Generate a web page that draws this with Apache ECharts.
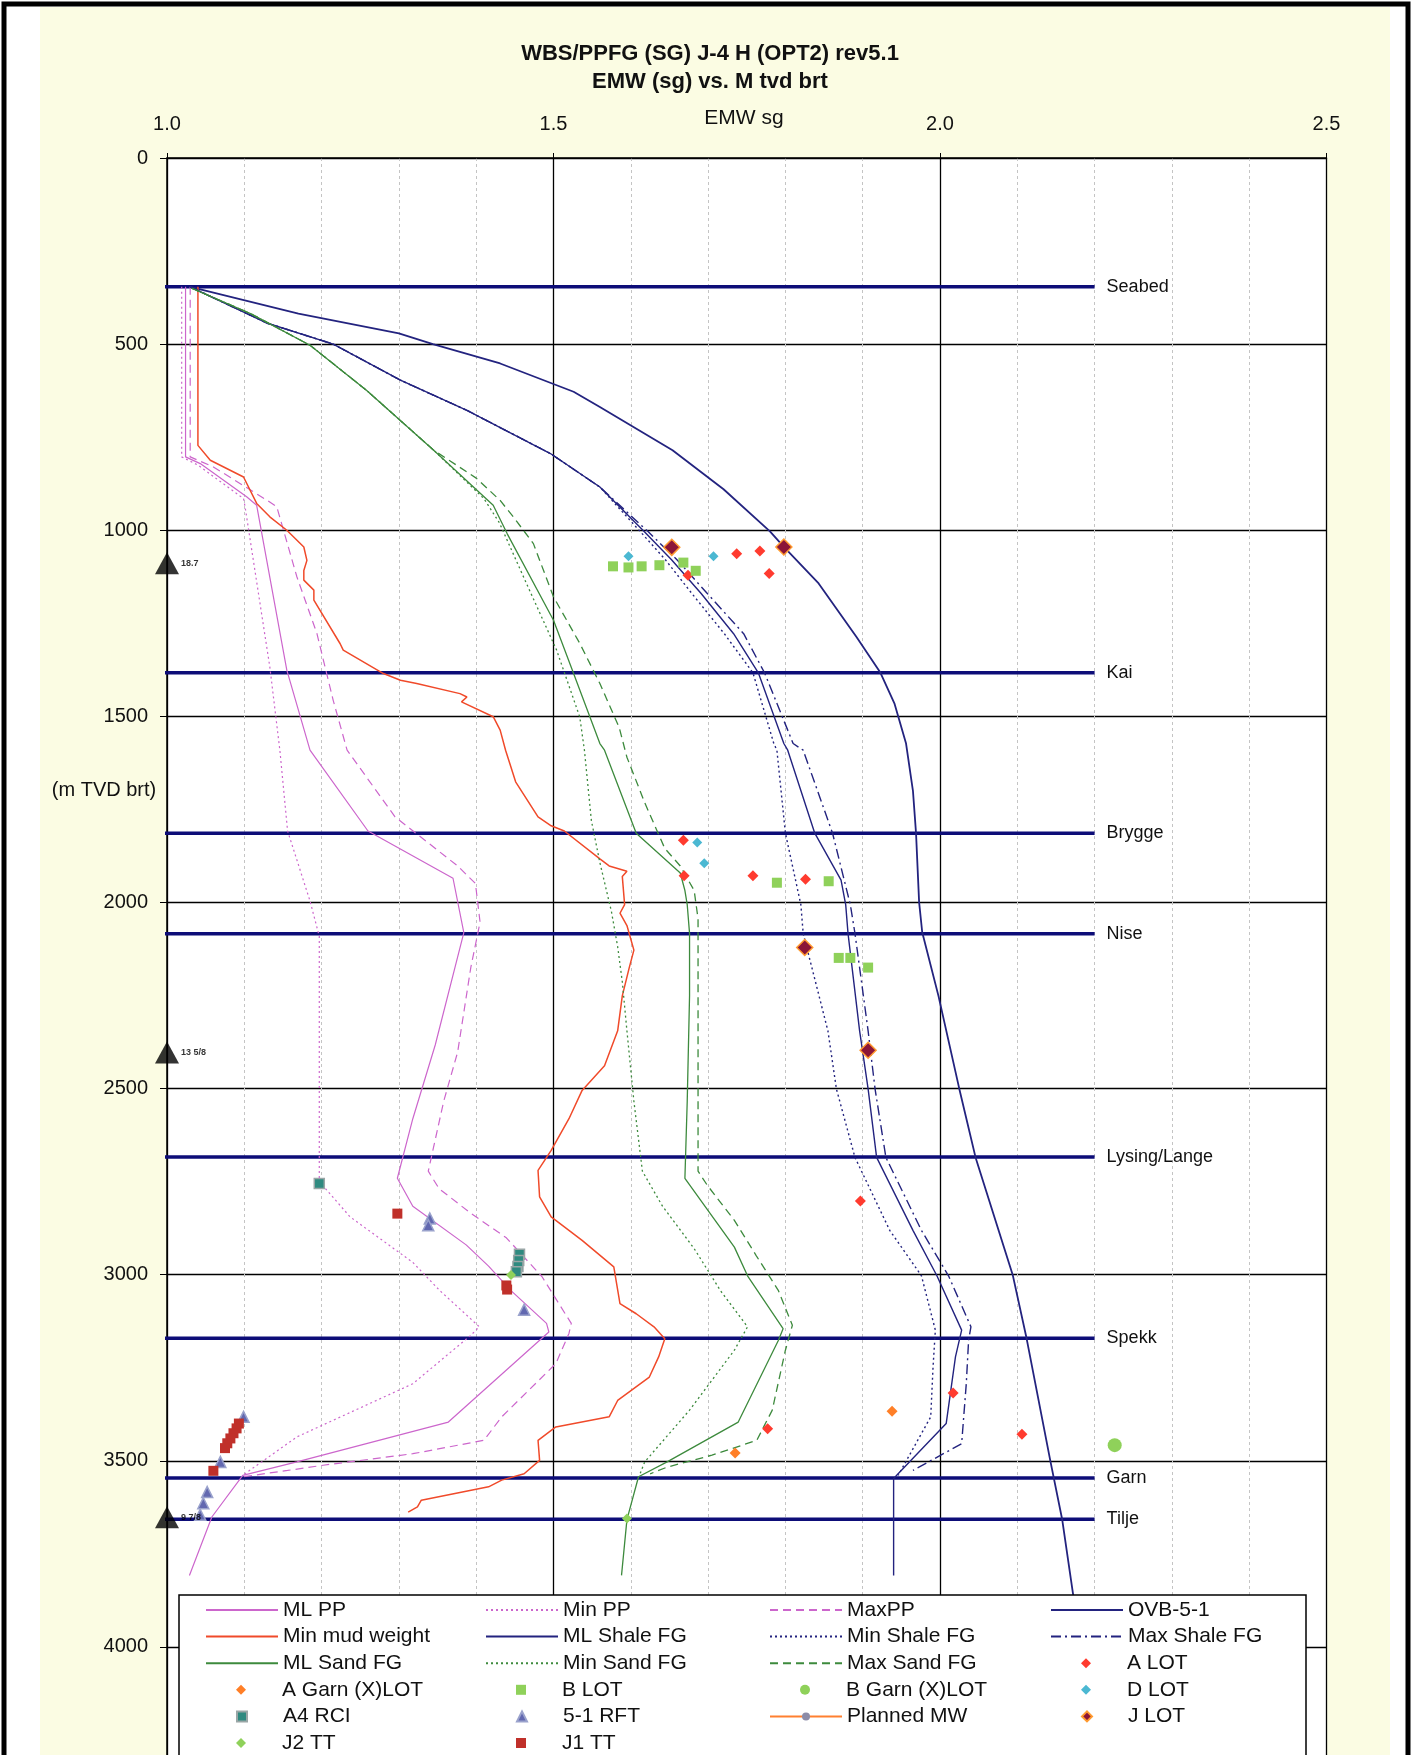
<!DOCTYPE html>
<html>
<head>
<meta charset="utf-8">
<title>WBS/PPFG J-4 H</title>
<script src="https://cdn.jsdelivr.net/npm/echarts@6/dist/echarts.min.js"></script>
<style>
html,body{margin:0;padding:0;background:#fff;}
#chart{width:1416px;height:1755px;}
</style>
</head>
<body>
<div id="chart"></div>
<script>
// EMW (sg) vs depth (m TVD brt), points are [sg, depth]
var mlPp = [[1.024,346],[1.024,803],[1.043,821],[1.103,910],[1.116,933],[1.155,1376],[1.185,1591],[1.260,1808],[1.370,1935],[1.384,2081],[1.347,2383],[1.318,2581],[1.298,2741],[1.318,2816],[1.387,2920],[1.416,2977],[1.445,3043],[1.491,3131],[1.494,3154],[1.364,3396],[1.168,3503],[1.098,3539],[1.058,3651],[1.029,3808]];
var minPp = [[1.019,346],[1.019,803],[1.040,825],[1.099,915],[1.101,937],[1.133,1367],[1.146,1591],[1.156,1808],[1.185,1996],[1.197,2091],[1.197,2750],[1.237,2845],[1.318,2967],[1.353,3043],[1.404,3140],[1.393,3163],[1.318,3293],[1.168,3436],[1.098,3539]];
var maxPp = [[1.030,346],[1.030,803],[1.060,830],[1.129,919],[1.142,937],[1.168,1125],[1.194,1278],[1.215,1457],[1.233,1591],[1.295,1770],[1.376,1902],[1.399,1949],[1.405,2053],[1.393,2175],[1.376,2402],[1.358,2534],[1.338,2722],[1.352,2769],[1.393,2835],[1.439,2901],[1.485,3005],[1.523,3131],[1.520,3158],[1.503,3239],[1.433,3382],[1.410,3445],[1.318,3481],[1.202,3512],[1.156,3526],[1.098,3543]];
var ovb = [[1.030,346],[1.170,418],[1.300,471],[1.344,500],[1.431,552],[1.526,628],[1.560,669],[1.654,785],[1.720,890],[1.780,1003],[1.798,1045],[1.843,1143],[1.892,1287],[1.923,1383],[1.941,1465],[1.956,1572],[1.965,1700],[1.969,1814],[1.973,2000],[1.977,2080],[1.998,2251],[2.025,2501],[2.046,2685],[2.094,3000],[2.112,3171],[2.143,3503],[2.158,3657],[2.172,3856],[2.180,3950]];
var minMudWeight = [[1.040,346],[1.040,772],[1.056,812],[1.099,857],[1.116,928],[1.133,964],[1.155,1000],[1.177,1045],[1.181,1081],[1.177,1108],[1.177,1134],[1.190,1161],[1.190,1188],[1.224,1305],[1.228,1322],[1.280,1385],[1.302,1403],[1.323,1412],[1.379,1439],[1.388,1448],[1.381,1461],[1.422,1501],[1.431,1537],[1.438,1591],[1.451,1676],[1.480,1770],[1.497,1794],[1.514,1808],[1.560,1883],[1.572,1902],[1.595,1916],[1.589,1930],[1.592,2006],[1.586,2029],[1.595,2062],[1.604,2128],[1.598,2175],[1.589,2251],[1.583,2345],[1.566,2439],[1.537,2505],[1.520,2581],[1.497,2666],[1.480,2720],[1.482,2791],[1.497,2845],[1.537,2908],[1.578,2979],[1.586,3078],[1.607,3105],[1.630,3140],[1.644,3172],[1.636,3221],[1.624,3275],[1.583,3338],[1.572,3382],[1.503,3409],[1.480,3445],[1.482,3499],[1.462,3535],[1.433,3552],[1.416,3570],[1.329,3606],[1.324,3624],[1.312,3638]];
var mlShaleFg = [[1.030,346],[1.130,444],[1.215,500],[1.302,597],[1.388,678],[1.496,794],[1.560,884],[1.617,1003],[1.653,1080],[1.691,1170],[1.733,1278],[1.765,1383],[1.798,1573],[1.803,1591],[1.838,1814],[1.872,1940],[1.878,2006],[1.881,2083],[1.896,2345],[1.907,2501],[1.918,2685],[1.965,2881],[1.996,3003],[2.028,3149],[2.020,3221],[2.008,3400],[1.944,3539],[1.940,3548],[1.940,3808]];
var minShaleFg = [[1.030,346],[1.130,444],[1.215,500],[1.302,597],[1.388,678],[1.496,794],[1.560,884],[1.612,1003],[1.645,1080],[1.679,1170],[1.721,1278],[1.758,1383],[1.785,1573],[1.789,1591],[1.800,1814],[1.820,2006],[1.823,2083],[1.855,2345],[1.866,2501],[1.890,2685],[1.935,2881],[1.976,3003],[1.994,3149],[1.991,3248],[1.988,3382],[1.946,3539]];
var maxShaleFg = [[1.030,346],[1.130,444],[1.215,500],[1.302,597],[1.388,678],[1.496,794],[1.560,884],[1.622,1003],[1.660,1080],[1.699,1170],[1.746,1278],[1.773,1383],[1.810,1573],[1.823,1591],[1.861,1814],[1.884,2006],[1.890,2083],[1.907,2345],[1.916,2501],[1.930,2685],[1.976,2881],[2.011,3003],[2.040,3140],[2.037,3176],[2.034,3293],[2.028,3454],[1.965,3526]];
var mlSandFg = [[1.032,350],[1.108,418],[1.185,503],[1.258,624],[1.345,785],[1.422,933],[1.440,1009],[1.500,1242],[1.526,1385],[1.560,1573],[1.566,1591],[1.607,1814],[1.664,1921],[1.670,1968],[1.673,2006],[1.676,2083],[1.676,2251],[1.673,2534],[1.670,2741],[1.734,2926],[1.751,3003],[1.797,3145],[1.791,3176],[1.739,3396],[1.647,3503],[1.610,3543],[1.595,3658],[1.588,3808]];
var minSandFg = [[1.032,350],[1.108,418],[1.185,503],[1.258,624],[1.345,785],[1.410,915],[1.430,980],[1.465,1143],[1.504,1322],[1.534,1502],[1.540,1591],[1.549,1780],[1.560,1893],[1.575,2025],[1.583,2119],[1.589,2213],[1.595,2345],[1.604,2534],[1.615,2722],[1.641,2816],[1.682,2930],[1.716,3043],[1.751,3140],[1.734,3203],[1.676,3364],[1.618,3503],[1.612,3535]];
var maxSandFg = [[1.032,350],[1.108,418],[1.185,503],[1.258,624],[1.345,785],[1.400,860],[1.431,920],[1.448,964],[1.474,1036],[1.500,1179],[1.534,1304],[1.560,1412],[1.585,1530],[1.595,1610],[1.618,1732],[1.644,1855],[1.664,1902],[1.682,1968],[1.687,2044],[1.687,2722],[1.699,2760],[1.734,2854],[1.762,2948],[1.791,3043],[1.809,3136],[1.800,3203],[1.783,3364],[1.763,3445],[1.705,3485],[1.647,3517],[1.625,3535]];
var plannedMw = [];

var aLot = [[1.737,1063],[1.767,1056],[1.779,1116],[1.674,1121],[1.668,1833],[1.669,1928],[1.758,1928],[1.826,1938],[1.897,2802],[2.017,3318],[2.106,3429],[1.777,3414]];
var aGarnLot = [[1.735,3479],[1.938,3367]];
var bLot = [[1.577,1097],[1.597,1100],[1.614,1097],[1.637,1094],[1.668,1087],[1.684,1109],[1.789,1947],[1.856,1943],[1.869,2149],[1.884,2149],[1.907,2175]];
var bGarnLot = [[2.226,3458]];
var dLot = [[1.597,1070],[1.707,1070],[1.686,1839],[1.695,1895]];
var a4Rci = [[1.197,2755],[1.456,2945],[1.455,2962],[1.454,2978],[1.452,2992]];
var rft51 = [[1.340,2849],[1.338,2867],[1.462,3094],[1.099,3382],[1.069,3503],[1.052,3584],[1.047,3614],[1.043,3645]];
var jLot = [[1.653,1046],[1.798,1045],[1.825,2121],[1.907,2397]];
var j2Tt = [[1.445,3001],[1.595,3655]];
var j1Tt = [[1.298,2836],[1.439,3029],[1.440,3040],[1.093,3400],[1.090,3413],[1.086,3426],[1.082,3440],[1.078,3453],[1.075,3466],[1.060,3527]];

// formation tops
var formationNames = ['Seabed','Kai','Brygge','Nise','Lysing/Lange','Spekk','Garn','Tilje'];
var formationDepths = [346,1383,1814,2084,2684,3171,3546,3657];
var formationFrom = 0.984, formationTo = 2.2;

// casing shoes
var casingDepths = [1089,2403,3652];
var casingLabels = ['18.7','13 5/8','9 7/8'];

var emwTicks = [1.0,1.5,2.0,2.5];
var depthMin = 0, depthMax = 4500, depthStep = 500;

var FONT = 'Liberation Sans, Arial, sans-serif';
var PINK = '#cc66cc', NAVY = '#23237f', GREEN = '#3d8a3d', RED = '#f04a2a';
var DOT = [2,3], DASH = [8,5], DASHDOT = [10,4,2,4];

function lineSeries(name, data, color, type, width) {
    return {
        name: name, type: 'line', data: data, symbol: 'none', silent: true, z: 2,
        lineStyle: { color: color, type: type, width: width },
        // transparent item colour keeps the legend icon a plain line
        itemStyle: { color: 'rgba(0,0,0,0)' }
    };
}

function pointSeries(name, data, symbol, size, color, border) {
    return {
        name: name, type: 'scatter', data: data, symbol: symbol, symbolSize: size, silent: true, z: 3,
        itemStyle: { color: color, borderColor: border || color, borderWidth: border ? 1.5 : 0, opacity: 1 }
    };
}

var series = [
    lineSeries('ML PP', mlPp, PINK, 'solid', 1.2),
    lineSeries('Min PP', minPp, PINK, DOT, 1.2),
    lineSeries('MaxPP', maxPp, PINK, DASH, 1.2),
    lineSeries('OVB-5-1', ovb, NAVY, 'solid', 1.8),
    lineSeries('Min mud weight', minMudWeight, RED, 'solid', 1.5),
    lineSeries('ML Shale FG', mlShaleFg, NAVY, 'solid', 1.4),
    lineSeries('Min Shale FG', minShaleFg, NAVY, DOT, 1.4),
    lineSeries('Max Shale FG', maxShaleFg, NAVY, DASHDOT, 1.4),
    lineSeries('ML Sand FG', mlSandFg, GREEN, 'solid', 1.3),
    lineSeries('Min Sand FG', minSandFg, GREEN, DOT, 1.3),
    lineSeries('Max Sand FG', maxSandFg, GREEN, DASH, 1.3),
    pointSeries('A LOT', aLot, 'diamond', 11, '#ff3b2f'),
    pointSeries('A Garn (X)LOT', aGarnLot, 'diamond', 11, '#ff7f27'),
    pointSeries('B LOT', bLot, 'rect', 10, '#8fd15a'),
    pointSeries('B Garn (X)LOT', bGarnLot, 'circle', 14, '#8fd15a'),
    pointSeries('D LOT', dLot, 'diamond', 10, '#4bb8d2'),
    pointSeries('A4 RCI', a4Rci, 'rect', 10, '#2f8a80', '#9aa6a6'),
    pointSeries('5-1 RFT', rft51, 'triangle', 11, '#6268b0', '#9aa2cc'),
    {
        name: 'Planned MW', type: 'line', data: plannedMw, symbol: 'circle', symbolSize: 9, showSymbol: true,
        lineStyle: { color: '#ff8030', width: 3 }, itemStyle: { color: '#8c8ca8' }
    },
    pointSeries('J LOT', jLot, 'diamond', 16, '#8b1538', '#ff9a30'),
    pointSeries('J2 TT', j2Tt, 'diamond', 10, '#8fd15a'),
    pointSeries('J1 TT', j1Tt, 'rect', 10, '#c0302a')
];

// formation top lines with names at the right end
for (var i = 0; i < formationNames.length; i++) {
    series.push({
        type: 'line', silent: true, clip: false, symbol: 'none', z: 1,
        data: [[formationFrom, formationDepths[i]], [formationTo, formationDepths[i]]],
        lineStyle: { color: '#0d0d78', width: 3.5 },
        endLabel: { show: true, formatter: formationNames[i], distance: 12, fontSize: 18, color: '#111', fontFamily: FONT }
    });
}

series.push({
    type: 'scatter', silent: true, clip: false, z: 4,
    data: casingDepths.map(function (d) { return [emwTicks[0], d]; }),
    symbol: 'triangle', symbolSize: [24, 22],
    itemStyle: { color: '#000' },
    label: {
        show: true, position: 'right', distance: 2, fontSize: 9, fontWeight: 'bold', color: '#000', fontFamily: FONT,
        formatter: function (p) { return casingLabels[p.dataIndex]; }
    }
});

// legend laid out as in the picture, one component per entry
var legendRows = [
    ['ML PP','Min PP','MaxPP','OVB-5-1'],
    ['Min mud weight','ML Shale FG','Min Shale FG','Max Shale FG'],
    ['ML Sand FG','Min Sand FG','Max Sand FG','A LOT'],
    ['A Garn (X)LOT','B LOT','B Garn (X)LOT','D LOT'],
    ['A4 RCI','5-1 RFT','Planned MW','J LOT'],
    ['J2 TT','J1 TT']
];
var legendLeft = [205, 485, 769, 1050];

var legends = [];
legendRows.forEach(function (row, r) {
    row.forEach(function (name, c) {
        var s = series.filter(function (x) { return x.name === name; })[0];
        var isLine = s.type === 'line';
        var w = isLine ? 72 : 10;
        legends.push({
            data: [name], orient: 'vertical', padding: 0, selectedMode: false,
            left: isLine ? legendLeft[c] : legendLeft[c] + 36 - w / 2,
            top: 1599 + r * 26.6,
            itemWidth: w, itemHeight: 10,
            textStyle: { fontSize: 21, lineHeight: 22, color: '#111', fontFamily: FONT,
                         padding: [0, 0, 0, isLine ? 0 : 36 - w / 2] }
        });
    });
});

var myChart = echarts.init(document.getElementById('chart'), null, { renderer: 'canvas' });
var option = {
    animation: false,
    backgroundColor: '#ffffff',
    textStyle: { fontFamily: FONT },
    title: {
        text: 'WBS/PPFG (SG) J-4 H (OPT2) rev5.1\nEMW (sg) vs. M tvd brt',
        left: 705, top: 35, textAlign: 'center',
        textStyle: { fontSize: 22, fontWeight: 'bold', lineHeight: 28, color: '#111', fontFamily: FONT }
    },
    graphic: [
        { type: 'rect', z: -10, silent: true, shape: { x: 4, y: 4, width: 1404, height: 1790 },
          style: { fill: '#ffffff', stroke: '#000', lineWidth: 5 } },
        { type: 'rect', z: -9, silent: true, shape: { x: 40, y: 7, width: 1350, height: 1760 },
          style: { fill: '#fbfce3' } },
        { type: 'rect', z: -8, silent: true, shape: { x: 167, y: 158, width: 1160, height: 1620 },
          style: { fill: '#ffffff' } },
        { type: 'rect', z: 3, silent: true, shape: { x: 179, y: 1595, width: 1127, height: 200 },
          style: { fill: '#ffffff', stroke: '#000', lineWidth: 1.5 } },
        { type: 'text', z: 5, silent: true,
          style: { x: 104, y: 790, text: '(m TVD brt)', fontSize: 20, fontFamily: FONT, fill: '#111',
                   textAlign: 'center', textVerticalAlign: 'middle' } },
        { type: 'text', z: 5, silent: true,
          style: { x: 744, y: 118, text: 'EMW sg', fontSize: 21, fontFamily: FONT, fill: '#111',
                   textAlign: 'center', textVerticalAlign: 'middle' } }
    ],
    legend: legends,
    grid: { left: 167, top: 158, width: 1159.5, height: 1675, outerBoundsMode: 'none', containLabel: false },
    xAxis: {
        type: 'value', position: 'top',
        min: emwTicks[0], max: emwTicks[emwTicks.length - 1], interval: 0.5,
        axisLine: { lineStyle: { color: '#000', width: 1.5 } },
        axisTick: { show: true, length: 5, lineStyle: { color: '#000' } },
        axisLabel: { fontSize: 20, color: '#111', margin: 24, fontFamily: FONT,
                     formatter: function (v) { return v.toFixed(1); } },
        splitLine: { show: true, lineStyle: { color: '#000', width: 1.3 } },
        minorTick: { show: false, splitNumber: 5 },
        minorSplitLine: { show: true, lineStyle: { color: '#c4c4c4', type: [3, 3], width: 1 } }
    },
    yAxis: {
        type: 'value', inverse: true,
        min: depthMin, max: depthMax, interval: depthStep,
        axisLine: { show: true, lineStyle: { color: '#000', width: 1.5 } },
        axisTick: { show: true, length: 7, lineStyle: { color: '#000' } },
        axisLabel: { fontSize: 20, color: '#111', margin: 19, fontFamily: FONT,
                     formatter: function (v) { return String(v); } },
        splitLine: { show: true, lineStyle: { color: '#000', width: 1.3 } }
    },
    series: series
};
myChart.setOption(option);
</script>
</body>
</html>
